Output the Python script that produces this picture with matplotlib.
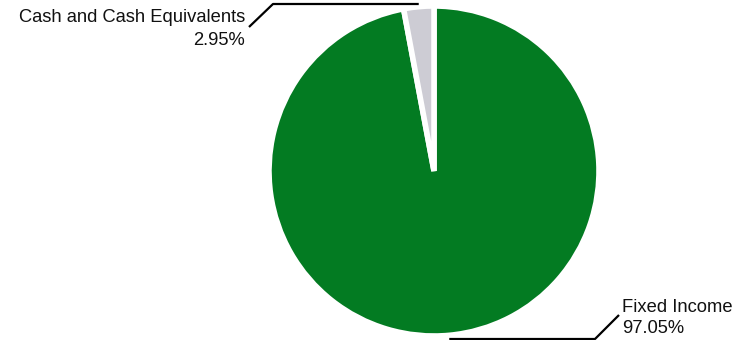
import numpy as np
import matplotlib
matplotlib.use("Agg")
import matplotlib.pyplot as plt

labels = ["Fixed Income", "Cash and Cash Equivalents"]
shares = [97.05, 2.95]
colors = ["#037B22", "#CDCCD4"]

W, H = 746, 340
fig = plt.figure(figsize=(W / 100, H / 100), dpi=100)
ax = fig.add_axes([0, 0, 1, 1])

cx, cy, r = 434, 169, 165
wedges, _ = ax.pie(shares, colors=colors, startangle=90, counterclock=False,
                   center=(cx, cy), radius=r, frame=True,
                   wedgeprops=dict(edgecolor="white", linewidth=4))
ax.set_xlim(0, W)
ax.set_ylim(0, H)
ax.set_aspect("equal")
ax.axis("off")

font = dict(family=["Liberation Sans", "DejaVu Sans"], fontsize=13.2, color="#111111")

def anchor_x(w):
    ang = np.deg2rad((w.theta1 + w.theta2) / 2)
    return cx + r * np.cos(ang)

# Cash label: horizontal run above the slice, then angles down-left
x0 = anchor_x(wedges[1])
yh = H - 4
ax.plot([x0, 273, 249], [yh, yh, H - 27], color="black", lw=1.6,
        solid_capstyle="butt")
ax.text(245, H - 22, labels[1], ha="right", va="baseline", **font)
ax.text(245, H - 45, f"{shares[1]:.2f}%", ha="right", va="baseline", **font)

# Fixed income label: horizontal run along the bottom, then angles up
x1 = anchor_x(wedges[0])
yb = H - 339
ax.plot([x1, 595, 619], [yb, yb, H - 315], color="black", lw=1.6,
        solid_capstyle="butt")
ax.text(622, H - 312, labels[0], ha="left", va="baseline", **font)
ax.text(622, H - 333, f"{shares[0]:.2f}%", ha="left", va="baseline", **font)

fig.savefig("out.png", dpi=100, facecolor="white")
